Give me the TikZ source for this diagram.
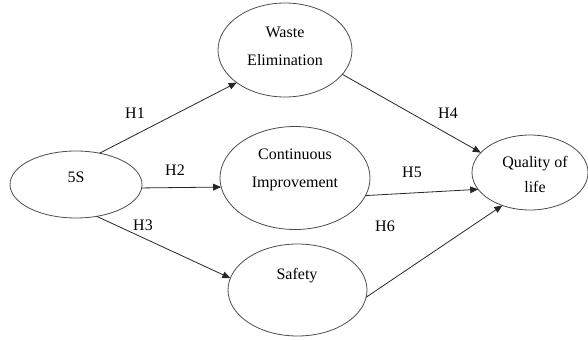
\documentclass[tikz,border=0pt]{standalone}
\usepackage{fontspec}
\setmainfont{Liberation Serif}
\usetikzlibrary{shapes.geometric,arrows.meta}
\tikzset{
  construct/.style={ellipse, draw=black!70, line width=0.6pt, inner sep=0pt, outer sep=0pt},
  link/.style={draw=black!85, line width=0.6pt, -{Triangle[length=6pt,width=5pt]}},
  txt/.style={font=\fontsize{12}{21}\selectfont, align=center, inner sep=0pt},
  hyp/.style={font=\fontsize{12}{14}\selectfont, inner sep=0pt}
}
\begin{document}
\begin{tikzpicture}[x=0.75pt, y=-0.75pt]
    \useasboundingbox (0, 0) rectangle (588, 339);
    % constructs
    \node [construct, minimum width=99pt, minimum height=50.25pt] (s5) at (76, 184.5) {};
    \node [txt] at (76, 177) {5S};
    %
    \node [construct, minimum width=100.5pt, minimum height=70.5pt] (waste) at (285, 50) {};
    \node [txt] at (285, 46) {Waste\\Elimination};
    %
    \node [construct, minimum width=112.5pt, minimum height=77.25pt] (ci) at (295, 178) {};
    \node [txt] at (295, 170) {Continuous\\Improvement};
    %
    \node [construct, minimum width=104.25pt, minimum height=69pt] (safety) at (297.5, 290) {};
    \node [txt] at (297, 276) {Safety};
    %
    \node [construct, minimum width=87pt, minimum height=56.25pt] (qol) at (530, 172.5) {};
    \node [txt, font=\fontsize{12}{18.5}\selectfont] at (535, 174.5) {Quality of\\life};
    %
    % hypotheses
    \draw [link] (s5.53.6) -- (waste.-146.6);
    \node [hyp] at (135, 113) {H1};
    %
    \draw [link] (s5.-3) -- (ci.187.8);
    \node [hyp] at (175, 170) {H2};
    %
    \draw [link] (s5.-57.9) -- (safety.170.3);
    \node [hyp] at (143, 225) {H3};
    %
    \draw [link] (waste.-23) -- (qol.158.5);
    \node [hyp] at (448, 113) {H4};
    %
    \draw [link] (ci.-14.8) -- (qol.198);
    \node [hyp] at (412, 172) {H5};
    %
    \draw [link] (safety.-6.7) -- (qol.230);
    \node [hyp] at (385, 226) {H6};
\end{tikzpicture}
\end{document}
